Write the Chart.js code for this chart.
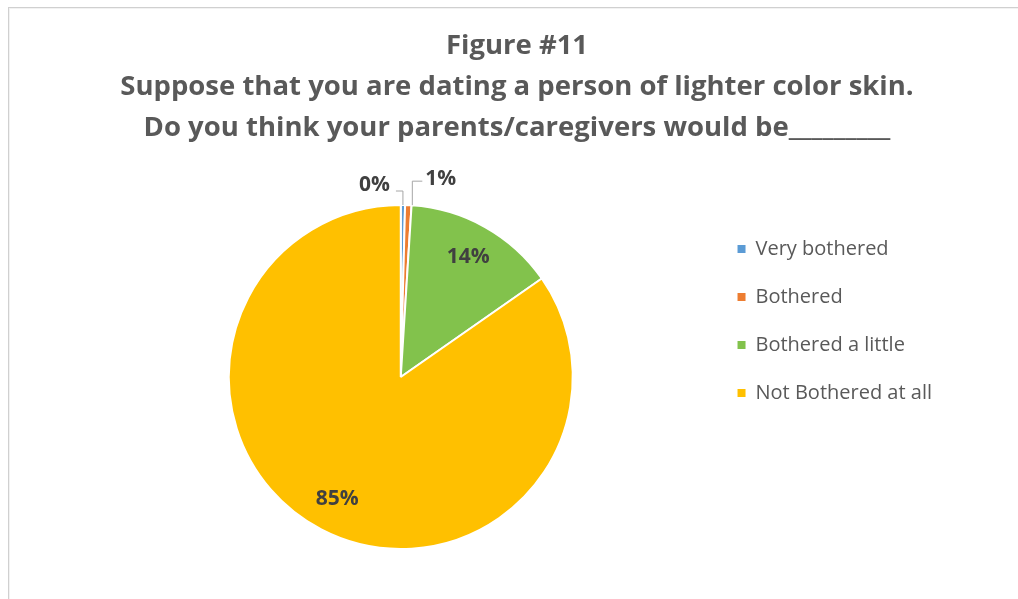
<!DOCTYPE html>
<html>
<head>
<meta charset="utf-8">
<script src="https://cdn.jsdelivr.net/npm/chart.js@4.4.1/dist/chart.umd.min.js"></script>
<style>
  html, body { margin: 0; padding: 0; background: #fff; overflow: hidden; }
  #frame {
    position: absolute; left: 8px; top: 7px; width: 1100px; height: 700px;
    border: 1px solid #d0d0d0; box-shadow: inset 1px 1px 0 #f2f2f2;
  }
  #pie { position: absolute; left: 0; top: 0; }
</style>
</head>
<body>
<div id="frame"></div>
<canvas id="pie" width="1018" height="599"></canvas>
<script>
const titleLines = [
  'Figure #11',
  'Suppose that you are dating a person of lighter color skin.',
  'Do you think your parents/caregivers would be_________'
];
const categories = ['Very bothered', 'Bothered', 'Bothered a little', 'Not Bothered at all'];
const shares = [0.4, 0.6, 14.3, 84.7];
const sliceColors = ['#5b9bd5', '#ed7d31', '#82c24c', '#ffc000'];

// percentage labels: inside for big slices, pulled out with an elbow leader for tiny ones
const sliceLabels = {
  id: 'sliceLabels',
  afterDatasetsDraw(chart) {
    const ctx = chart.ctx;
    const values = chart.data.datasets[0].data;
    const arcs = chart.getDatasetMeta(0).data;
    let small = 0;
    ctx.save();
    ctx.font = 'bold 21px "Open Sans"';
    ctx.fillStyle = '#404040';
    ctx.textBaseline = 'middle';
    ctx.strokeStyle = '#a6a6a6';
    ctx.lineWidth = 1;
    arcs.forEach((arc, i) => {
      const p = arc.getProps(['x', 'y', 'startAngle', 'endAngle', 'outerRadius'], true);
      const mid = (p.startAngle + p.endAngle) / 2;
      const text = Math.round(values[i]) + '%';
      if (values[i] >= 5) {
        const r = p.outerRadius * 0.8;
        ctx.textAlign = 'center';
        ctx.fillText(text, p.x + Math.cos(mid) * r, p.y + Math.sin(mid) * r);
        return;
      }
      const ex = p.x + Math.cos(mid) * p.outerRadius;
      const ey = p.y + Math.sin(mid) * p.outerRadius;
      ctx.beginPath();
      if (small === 0) {
        ctx.moveTo(ex, ey);
        ctx.lineTo(ex, ey - 14);
        ctx.lineTo(ex - 7, ey - 14);
        ctx.stroke();
        ctx.textAlign = 'right';
        ctx.fillText(text, ex - 13, ey - 20);
      } else {
        ctx.moveTo(ex + 4, ey);
        ctx.lineTo(ex + 4, ey - 24);
        ctx.lineTo(ex + 14, ey - 24);
        ctx.stroke();
        ctx.textAlign = 'left';
        ctx.fillText(text, ex + 17, ey - 26);
      }
      small++;
    });
    ctx.restore();
  }
};

new Chart(document.getElementById('pie'), {
  type: 'pie',
  data: {
    labels: categories,
    datasets: [{
      data: shares,
      backgroundColor: sliceColors,
      borderColor: '#ffffff',
      borderWidth: 2
    }]
  },
  options: {
    responsive: false,
    animation: false,
    layout: { padding: { left: 92, right: 76, top: 0, bottom: 49 } },
    plugins: {
      title: {
        display: true,
        text: titleLines,
        color: '#595959',
        font: { family: 'Open Sans', size: 27.5, weight: 'bold', lineHeight: 41 / 27.5 },
        padding: { top: 26, bottom: 55 }
      },
      legend: {
        position: 'right',
        align: 'start',
        fullSize: false,
        // empty title only pushes the entries down a little
        title: { display: true, text: '', font: { size: 1, lineHeight: 1 }, padding: { top: 0, bottom: 6 } },
        labels: {
          color: '#595959',
          font: { family: 'Open Sans', size: 20 },
          boxWidth: 8,
          boxHeight: 8,
          padding: 28,
          generateLabels(chart) {
            return Chart.overrides.pie.plugins.legend.labels.generateLabels(chart)
              .map(item => ({ ...item, lineWidth: 0 }));
          }
        }
      },
      tooltip: { enabled: false }
    }
  },
  plugins: [sliceLabels]
});
</script>
</body>
</html>
